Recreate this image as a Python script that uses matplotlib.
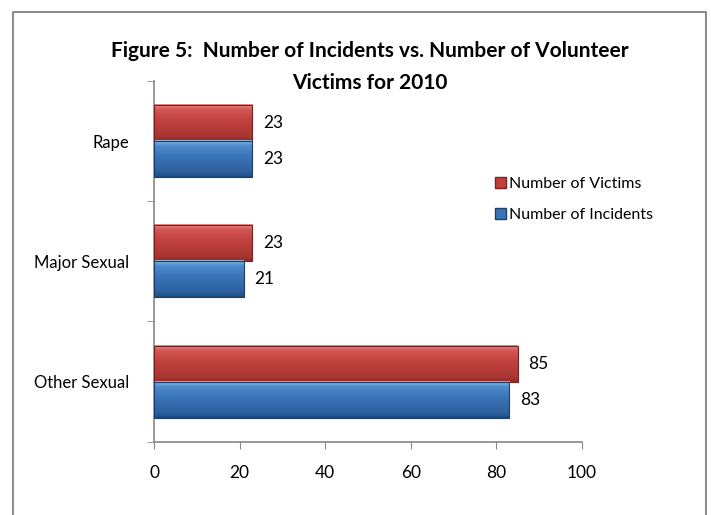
import matplotlib
matplotlib.use("Agg")
import matplotlib.pyplot as plt
import numpy as np
from matplotlib.colors import LinearSegmentedColormap
from matplotlib.patches import Rectangle
from matplotlib.lines import Line2D

categories = ["Other Sexual", "Major Sexual", "Rape"]
victims = [85, 23, 23]
incidents = [83, 21, 23]
series_names = ["Number of Victims", "Number of Incidents"]
xticks = [0, 20, 40, 60, 80, 100]

plt.rcParams['font.family'] = ['Lato', 'DejaVu Sans']

fs = 12
fig = plt.figure(figsize=(7.11, 5.15), dpi=100)
ax = fig.add_axes([0.2166, 0.1424, 0.6020, 0.700])

red_cmap = LinearSegmentedColormap.from_list(
    "r", [(0, "#8E2A28"), (0.12, "#A93634"), (0.55, "#C0403E"), (0.85, "#D25653"), (1.0, "#EC8A86")])
blue_cmap = LinearSegmentedColormap.from_list(
    "b", [(0, "#1E4A7E"), (0.12, "#2C5F9C"), (0.55, "#3A74B8"), (0.85, "#4D8ACB"), (1.0, "#8CC4EC")])

y = np.arange(len(categories))
h = 0.3
grad = np.linspace(0, 1, 64).reshape(-1, 1)

def draw_bars(vals, offs, cmap, edge):
    for yi, v in zip(y, vals):
        y0, y1 = yi + offs - h / 2, yi + offs + h / 2
        ax.imshow(grad, cmap=cmap, aspect="auto", origin="lower",
                  extent=(0, v, y0, y1), zorder=2, interpolation="bilinear")
        ax.add_patch(Rectangle((0, y0), v, h, fill=False, edgecolor=edge, lw=0.8, zorder=3))
        ax.text(v + 2.5, yi + offs, str(v), va="center", ha="left", fontsize=fs + 0.5, color="black")

draw_bars(victims, h / 2, red_cmap, "#7A2220")
draw_bars(incidents, -h / 2, blue_cmap, "#1A3F6C")

ax.set_xlim(0, 100)
ax.set_ylim(-0.5, 2.5)
ax.set_xticks(xticks)
ax.set_xticklabels([str(t) for t in xticks], fontsize=fs + 0.5)
ax.set_yticks(y)
ax.set_yticklabels(categories, fontsize=fs)
ax.tick_params(axis="y", which="major", length=0, pad=18)
ax.set_yticks([-0.5, 0.5, 1.5, 2.5], minor=True)
ax.tick_params(axis="y", which="minor", length=5, color="#888888", direction="out")
ax.tick_params(axis="x", length=5, color="#888888", direction="out", pad=12)
for s in ["top", "right"]:
    ax.spines[s].set_visible(False)
for s in ["left", "bottom"]:
    ax.spines[s].set_color("#888888")
    ax.spines[s].set_linewidth(1.2)

handles = [Rectangle((0, 0), 1, 1, facecolor="#C0403E", edgecolor="#7A2220"),
           Rectangle((0, 0), 1, 1, facecolor="#3A74B8", edgecolor="#1A3F6C")]
fig.legend(handles, series_names, loc="center left", bbox_to_anchor=(0.676, 0.613),
           frameon=False, fontsize=fs - 0.5, handlelength=0.7, handleheight=0.7,
           handletextpad=0.15, labelspacing=1.05)

fig.text(0.52, 0.869, "Figure 5:  Number of Incidents vs. Number of Volunteer\nVictims for 2010",
         ha="center", va="center", fontsize=15, fontweight="bold", linespacing=1.75)

# outer chart border (left, top, right; bottom is cropped off)
L, T, R = 12.5 / 711, 1 - 11.5 / 515, 706 / 711
fig.add_artist(Line2D([L, L, R, R], [0, T, T, 0], transform=fig.transFigure,
                      color="#8C8C8C", lw=1.5))

fig.savefig("out.png", dpi=100)
